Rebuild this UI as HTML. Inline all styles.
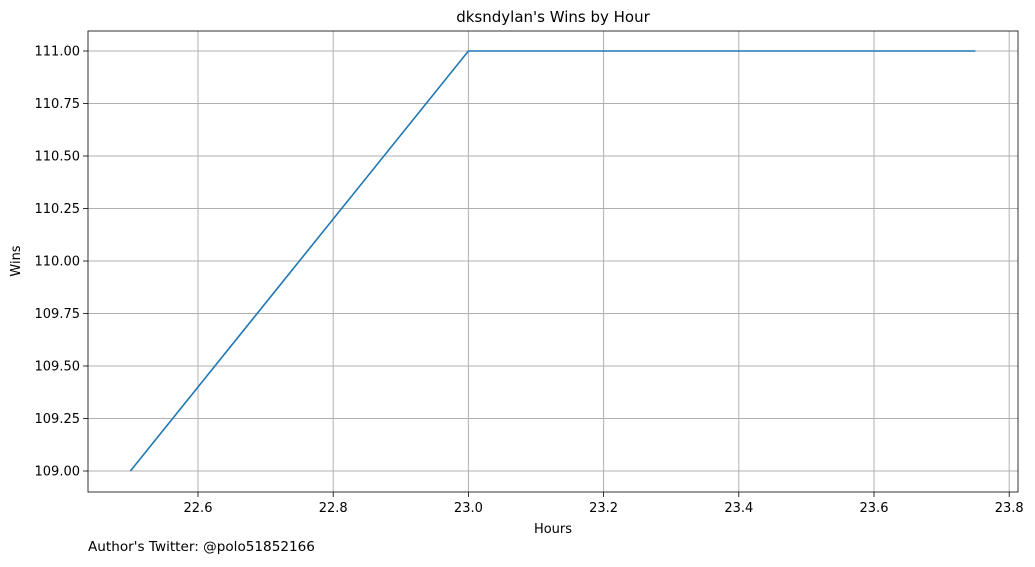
<!DOCTYPE html>
<html><head><meta charset="utf-8"><style>
body{margin:0;background:#fff;font-family:"Liberation Sans","DejaVu Sans",sans-serif;}
text{font-family:"DejaVu Sans","Liberation Sans",sans-serif;}
</style></head><body>
<svg id="chart" width="1035" height="562" xmlns="http://www.w3.org/2000/svg"></svg>
<script>
const hours = [22.5, 23.0, 23.75];
const wins = [109, 111, 111];
const xTicks = [22.6, 22.8, 23.0, 23.2, 23.4, 23.6, 23.8];
const yTicks = [109.0, 109.25, 109.5, 109.75, 110.0, 110.25, 110.5, 110.75, 111.0];

const svg = document.getElementById('chart');
const NS = 'http://www.w3.org/2000/svg';
const L = 88, R = 1018, T = 31, B = 492;
const xs = v => 198 + (v - 22.6) * 676;
const ys = v => 471 - (v - 109) * 210;
function mk(tag, attrs, txt) {
  const e = document.createElementNS(NS, tag);
  for (const k in attrs) e.setAttribute(k, attrs[k]);
  if (txt !== undefined) e.textContent = txt;
  svg.appendChild(e);
  return e;
}
xTicks.forEach(t => {
  const x = xs(t);
  const g = mk('line', {x1: x, x2: x, y1: T, y2: B, stroke: '#b0b0b0', 'stroke-width': 1});
  
  
  mk('line', {x1: x, x2: x, y1: B, y2: B + 5, stroke: '#000', 'stroke-width': 0.8});
  const lb = mk('text', {x: x, y: B + 20, 'font-size': 13, 'text-anchor': 'middle'}, t.toFixed(1));
  
  
});
yTicks.forEach(t => {
  const y = ys(t);
  const g = mk('line', {x1: L, x2: R, y1: y, y2: y, stroke: '#b0b0b0', 'stroke-width': 1});
  
  
  mk('line', {x1: L - 5, x2: L, y1: y, y2: y, stroke: '#000', 'stroke-width': 0.8});
  const lb = mk('text', {x: L - 8, y: y + 4.5, 'font-size': 13, 'text-anchor': 'end'}, t.toFixed(2));
  
  
});
const line = mk('polyline', {points: hours.map((h, i) => xs(h) + ',' + ys(wins[i])).join(' '), fill: 'none', stroke: '#1f77b4', 'stroke-width': 1.6});


const frame = mk('rect', {x: L, y: T, width: R - L, height: B - T, fill: 'none', stroke: '#000', 'stroke-width': 0.8});


const title = mk('text', {x: (L + R) / 2, y: 22, 'font-size': 15, 'text-anchor': 'middle'}, "dksndylan's Wins by Hour");


const xt = mk('text', {x: (L + R) / 2, y: 533, 'font-size': 13, 'text-anchor': 'middle'}, 'Hours');


const yt = mk('text', {x: 20, y: 261, 'font-size': 13, 'text-anchor': 'middle', transform: 'rotate(-90 20 261)'}, 'Wins');


const ft = mk('text', {x: 88, y: 551, 'font-size': 13.6}, "Author's Twitter: @polo51852166");


</script>
</body></html>
